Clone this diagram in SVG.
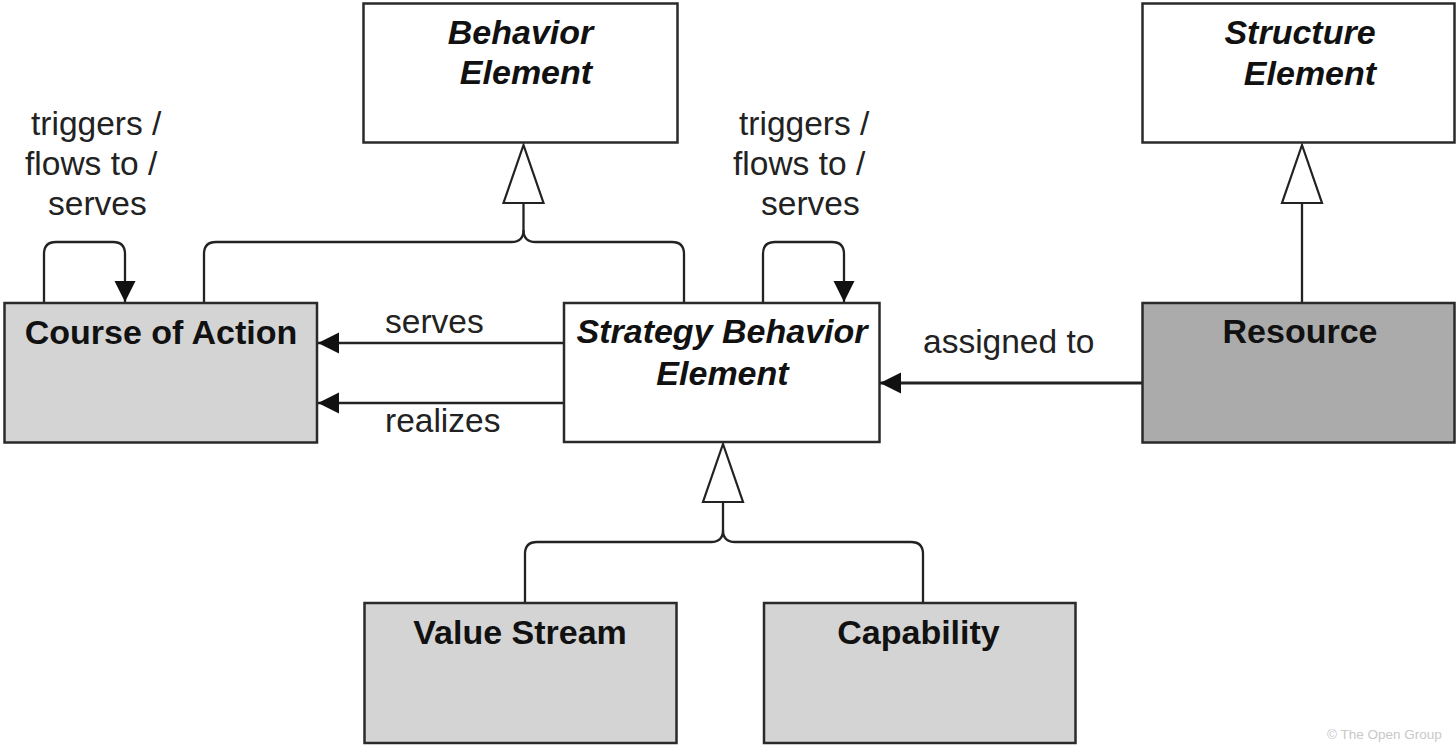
<svg xmlns="http://www.w3.org/2000/svg" width="1456" height="746" viewBox="0 0 1456 746">
  <style>
    .box { stroke: #2a2a2a; stroke-width: 2.5; }
    .white { fill: #ffffff; }
    .light { fill: #d4d4d4; }
    .dark { fill: #ababab; }
    .lbl { font-family: "Liberation Sans", Arial, sans-serif; font-size: 34px; fill: #111; }
    .b { font-weight: bold; }
    .bi { font-weight: bold; font-style: italic; }
    .rel { font-family: "Liberation Sans", Arial, sans-serif; font-size: 33.5px; fill: #222; }
    .line { fill: none; stroke: #222; stroke-width: 2.3; }
    .thick { stroke-width: 3; }
    .gen { fill: #ffffff; stroke: #222; stroke-width: 2.2; stroke-linejoin: miter; }
    .copy { font-family: "Liberation Sans", Arial, sans-serif; font-size: 13.5px; fill: #c8c8c8; }
  </style>
  <defs>
    <marker id="arrow" markerUnits="userSpaceOnUse" markerWidth="22" markerHeight="22" refX="21" refY="10.5" orient="auto">
      <path d="M0,0 L21,10.5 L0,21 z" fill="#111"/>
    </marker>
  </defs>
  <rect width="1456" height="746" fill="#ffffff"/>

  <g id="connectors">
    <!-- Generalization to Behavior Element -->
    <path class="line" d="M523.5,203 V230 Q523.5,242 511.5,242 H216 Q204,242 204,254 V303"/>
    <path class="line" d="M523.5,230 Q523.5,242 535.5,242 H672 Q684,242 684,254 V303"/>
    <polygon class="gen" points="523.5,145 543.5,203 503.5,203"/>
    <!-- Generalization to Structure Element -->
    <path class="line" d="M1302,203 V303"/>
    <polygon class="gen" points="1302,145 1322,203 1282,203"/>
    <!-- Generalization to Strategy Behavior Element -->
    <path class="line" d="M723,502 V530 Q723,542 711,542 H537 Q525,542 525,554 V603"/>
    <path class="line" d="M723,530 Q723,542 735,542 H911 Q923,542 923,554 V603"/>
    <polygon class="gen" points="723,444 743,502 703,502"/>
    <!-- Self loops -->
    <path class="line" d="M44,303 V254 Q44,242 56,242 H113 Q125,242 125,254 V302" marker-end="url(#arrow)"/>
    <path class="line" d="M763,303 V254 Q763,242 775,242 H832 Q844,242 844,254 V302" marker-end="url(#arrow)"/>
    <!-- serves / realizes -->
    <path class="line" d="M564,343 H318" marker-end="url(#arrow)"/>
    <path class="line" d="M564,403 H318" marker-end="url(#arrow)"/>
    <!-- assigned to -->
    <path class="line thick" d="M1142,383 H880" marker-end="url(#arrow)"/>

    <text class="rel" x="31" y="135">triggers /</text>
    <text class="rel" x="25" y="175">flows to /</text>
    <text class="rel" x="48" y="215">serves</text>
    <text class="rel" x="739" y="135">triggers /</text>
    <text class="rel" x="733" y="175">flows to /</text>
    <text class="rel" x="761" y="215">serves</text>
    <text class="rel" x="385" y="333">serves</text>
    <text class="rel" x="385" y="432">realizes</text>
    <text class="rel" x="923" y="353">assigned to</text>
  </g>

  <g id="behavior-element">
    <rect class="box white" x="363.5" y="3.5" width="314" height="139"/>
    <text class="lbl bi" x="520.5" y="44" text-anchor="middle">Behavior</text>
    <text class="lbl bi" x="526" y="84" text-anchor="middle">Element</text>
  </g>

  <g id="structure-element">
    <rect class="box white" x="1142.5" y="3.5" width="312" height="139"/>
    <text class="lbl bi" x="1300" y="44" text-anchor="middle">Structure</text>
    <text class="lbl bi" x="1310" y="85" text-anchor="middle">Element</text>
  </g>

  <g id="course-of-action">
    <rect class="box light" x="4.5" y="303" width="312.5" height="139.5"/>
    <text class="lbl b" x="161" y="344" text-anchor="middle">Course of Action</text>
  </g>

  <g id="strategy-behavior-element">
    <rect class="box white" x="564" y="303" width="315.5" height="139"/>
    <text class="lbl bi" x="722" y="343" text-anchor="middle">Strategy Behavior</text>
    <text class="lbl bi" x="722.5" y="385" text-anchor="middle">Element</text>
  </g>

  <g id="resource">
    <rect class="box dark" x="1142.5" y="303" width="312" height="139.5"/>
    <text class="lbl b" x="1300" y="343" text-anchor="middle">Resource</text>
  </g>

  <g id="value-stream">
    <rect class="box light" x="364.5" y="603" width="312" height="140"/>
    <text class="lbl b" x="520" y="644" text-anchor="middle">Value Stream</text>
  </g>

  <g id="capability">
    <rect class="box light" x="764" y="603" width="311.5" height="140"/>
    <text class="lbl b" x="918.5" y="644" text-anchor="middle">Capability</text>
  </g>

  <text class="copy" x="1327" y="739">© The Open Group</text>
</svg>
